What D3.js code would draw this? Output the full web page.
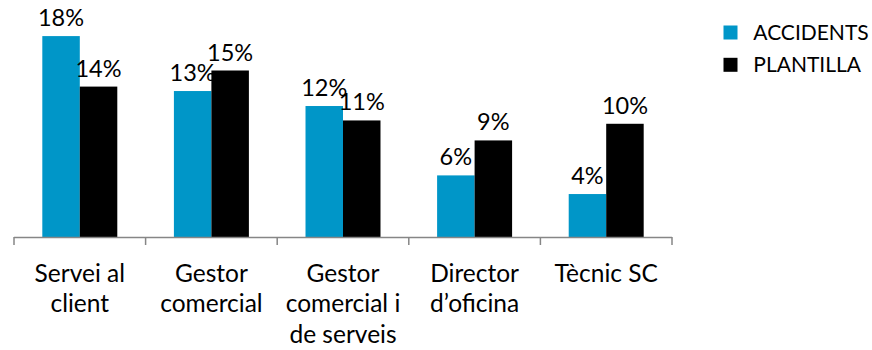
<!DOCTYPE html>
<html>
<head>
<meta charset="utf-8">
<script src="https://cdn.jsdelivr.net/npm/d3@7"></script>
<style>
  html, body { margin: 0; padding: 0; background: #fff; }
  svg text { font-family: Lato, "Open Sans", sans-serif; fill: #000; }
</style>
</head>
<body>
<svg id="chart" width="872" height="350"></svg>
<script>
// Share of accidents vs. share of staff by job role (percent)
const categories = [
  ["Servei al", "client"],
  ["Gestor", "comercial"],
  ["Gestor", "comercial i", "de serveis"],
  ["Director", "d\u2019oficina"],
  ["Tècnic SC"]
];
const seriesNames = ["ACCIDENTS", "PLANTILLA"];
const accidents = [18.1, 13.15, 11.8, 5.55, 3.87];
const plantilla = [13.55, 15.0, 10.5, 8.7, 10.2];
const colors = ["#0096c8", "#000000"];

const svg = d3.select("#chart");
const valueFont = 23.5;
const catFont = 24.5;
const legendFont = 21;

const plot = { left: 14, right: 672, top: 15, bottom: 237 };

const catKeys = categories.map((c, i) => i);
const x0 = d3.scaleBand().domain(catKeys).range([plot.left, plot.right]).padding(0);
const x1 = d3.scaleBand().domain(seriesNames).range([0, x0.bandwidth()])
  .paddingInner(0).paddingOuter(0.755);
const y = d3.scaleLinear().domain([0, 20]).range([plot.bottom, plot.top]);

const rows = catKeys.map(i => ({
  i,
  vals: [
    { key: seriesNames[0], v: accidents[i], c: colors[0] },
    { key: seriesNames[1], v: plantilla[i], c: colors[1] }
  ]
}));

// Bars
const groups = svg.append("g").selectAll("g").data(rows).join("g")
  .attr("transform", d => `translate(${x0(d.i)},0)`);

groups.selectAll("rect").data(d => d.vals).join("rect")
  .attr("x", d => x1(d.key))
  .attr("y", d => y(d.v))
  .attr("width", x1.bandwidth())
  .attr("height", d => y(0) - y(d.v))
  .attr("fill", d => d.c);

// Value labels
groups.selectAll("text.val").data(d => d.vals).join("text")
  .attr("class", "val")
  .attr("x", d => x1(d.key) + x1.bandwidth() / 2)
  .attr("y", d => y(d.v) - 10)
  .attr("text-anchor", "middle")
  .attr("font-size", valueFont)
  .text(d => Math.round(d.v) + "%");

// Category axis with ticks at band boundaries
const axisG = svg.append("g");
axisG.append("line")
  .attr("x1", plot.left).attr("x2", plot.right)
  .attr("y1", plot.bottom + 0.5).attr("y2", plot.bottom + 0.5)
  .attr("stroke", "#868686").attr("stroke-width", 1.5);
const boundaries = catKeys.map(i => x0(i)).concat([plot.right]);
axisG.selectAll("line.tick").data(boundaries).join("line")
  .attr("class", "tick")
  .attr("x1", d => d).attr("x2", d => d)
  .attr("y1", plot.bottom).attr("y2", plot.bottom + 8)
  .attr("stroke", "#868686").attr("stroke-width", 1.5);

const catLabels = svg.append("g").selectAll("text").data(rows).join("text")
  .attr("text-anchor", "middle")
  .attr("font-size", catFont)
  .attr("x", d => x0(d.i) + x0.bandwidth() / 2)
  .attr("y", 281.5);
catLabels.selectAll("tspan").data(d => categories[d.i].map(t => ({ t, x: x0(d.i) + x0.bandwidth() / 2 })))
  .join("tspan")
  .attr("x", d => d.x)
  .attr("dy", (d, k) => k === 0 ? 0 : 30.7)
  .text(d => d.t);

// Legend
const legend = svg.append("g").selectAll("g").data(seriesNames).join("g")
  .attr("transform", (d, k) => `translate(723.5,${25.5 + k * 32.3})`);
legend.append("rect")
  .attr("width", 14).attr("height", 14)
  .attr("fill", (d, k) => colors[k]);
legend.append("text")
  .attr("x", 29.8).attr("y", 14.5)
  .attr("font-size", legendFont)
  .text(d => d);
</script>
</body>
</html>
